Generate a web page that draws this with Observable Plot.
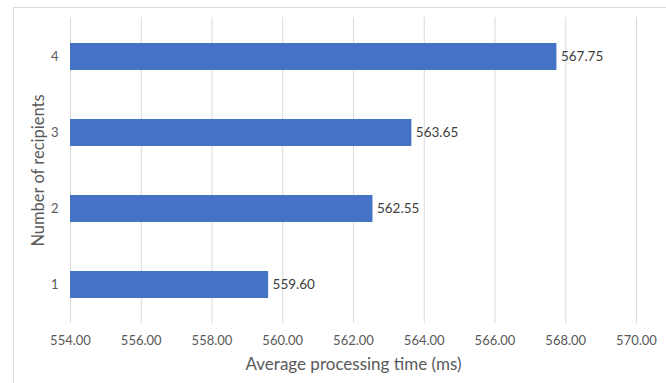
<!DOCTYPE html>
<html>
<head>
<meta charset="utf-8">
<script src="https://cdn.jsdelivr.net/npm/d3@7"></script>
<script src="https://cdn.jsdelivr.net/npm/@observablehq/plot@0.6"></script>
<style>
  html, body { margin: 0; padding: 0; background: #fff; }
  #wrap { position: relative; width: 666px; height: 383px; overflow: hidden; }
  #frame { position: absolute; left: 13px; top: 7px; width: 670px; height: 400px; border: 1px solid #d9d9d9; box-sizing: border-box; }
  #chart { position: absolute; left: 0; top: 0; }
</style>
</head>
<body>
<div id="wrap">
  <div id="frame"></div>
  <div id="chart"></div>
</div>
<script>
const recipients = ["1", "2", "3", "4"];
const avgTime = [559.60, 562.55, 563.65, 567.75];
const xTicks = [554, 556, 558, 560, 562, 564, 566, 568, 570];

const data = recipients.map((r, i) => ({ r, v: avgTime[i] }));
const fmt = d3.format(".2f");

const chart = Plot.plot({
  width: 666,
  height: 383,
  marginLeft: 70,
  marginRight: 30,
  marginTop: 17,
  marginBottom: 60,
  style: { fontFamily: "Lato, 'Open Sans', sans-serif", fontSize: "13px", color: "#595959", background: "transparent" },
  x: { domain: [554, 570], ticks: xTicks, tickFormat: fmt, label: null },
  y: { domain: [...recipients].reverse(), paddingInner: 0.65, paddingOuter: 0.325, label: null },
  marks: [
    Plot.gridX(xTicks, { stroke: "#d9d9d9", strokeOpacity: 1 }),
    Plot.barX(data, { x1: 554, x2: "v", y: "r", fill: "#4472C4" }),
    Plot.text(data, { x: "v", y: "r", text: d => fmt(d.v), textAnchor: "start", dx: 4, fill: "#404040", fontSize: 13.5 }),
    Plot.axisX({ ticks: xTicks, tickFormat: fmt, tickSize: 0, tickPadding: 12, label: null, fill: "#595959", fontSize: 13 }),
    Plot.axisY({ tickSize: 0, tickPadding: 12, label: null, fill: "#595959", fontSize: 13 }),
    Plot.text(["Average processing time (ms)"], { frameAnchor: "bottom", dy: 46, fontSize: 17, fill: "#595959" }),
    Plot.text(["Number of recipients"], { frameAnchor: "left", textAnchor: "middle", dx: -32, rotate: -90, fontSize: 16.5, fill: "#595959" })
  ]
});
document.getElementById("chart").appendChild(chart);
</script>
</body>
</html>
